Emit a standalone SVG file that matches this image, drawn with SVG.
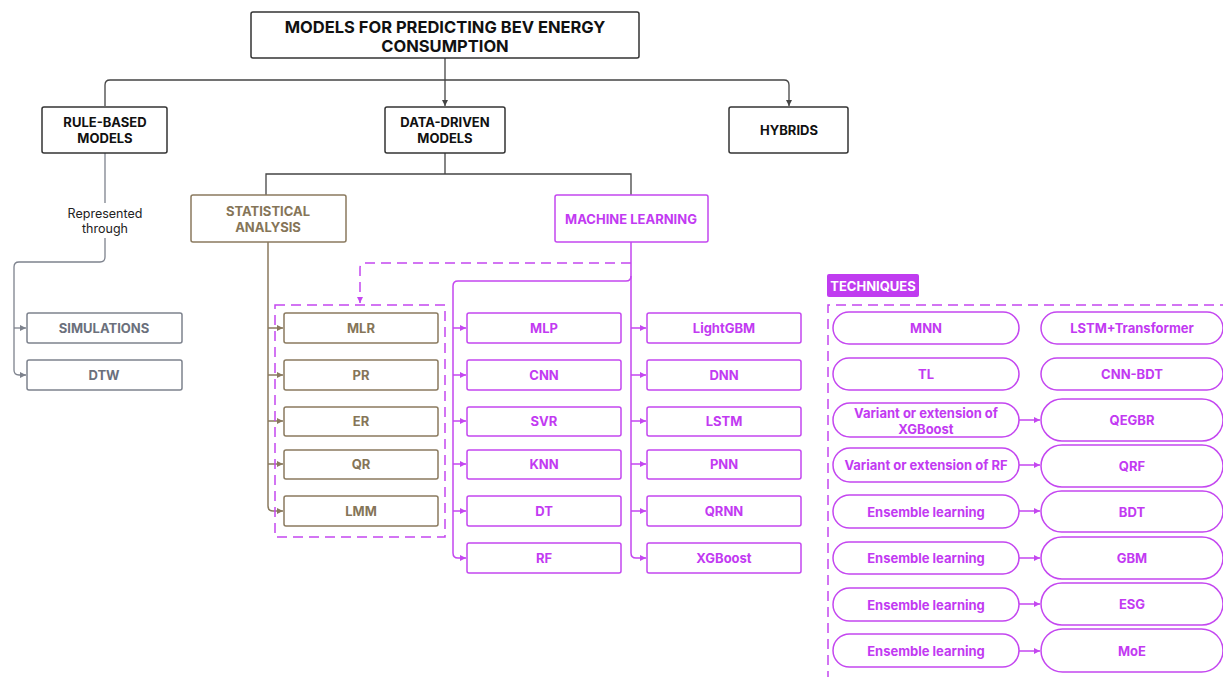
<svg xmlns="http://www.w3.org/2000/svg" width="1223" height="677" viewBox="0 0 1223 677">
<style>
text{font-family:Inter,"Liberation Sans",sans-serif;font-weight:700;text-anchor:middle;dominant-baseline:central}
.t{font-size:16.5px;fill:#111}
.k{font-size:13px;fill:#111}
.kb{fill:#fff;stroke:#333;stroke-width:1.5}
.g{font-size:13px;fill:#6b707c}
.gb{fill:#fff;stroke:#7d828d;stroke-width:1.5}
.b{font-size:13px;fill:#857558}
.bb{fill:#fff;stroke:#8a7a5f;stroke-width:1.5}
.m{font-size:13px;fill:#c23af2}
.mb{fill:#fff;stroke:#c447f0;stroke-width:1.5}
.lk{fill:none;stroke:#444;stroke-width:1.3}
.lg{fill:none;stroke:#7d828d;stroke-width:1.3}
.lb{fill:none;stroke:#8a7a5f;stroke-width:1.5}
.lm{fill:none;stroke:#c447f0;stroke-width:1.5}
.dm{fill:none;stroke:#c447f0;stroke-width:1.5;stroke-dasharray:10 6}
.n{font-size:12.5px;font-weight:400;fill:#222}
</style>
<defs>
<marker id="ak" viewBox="0 0 6 6" refX="6" refY="3" markerWidth="6" markerHeight="6" orient="auto" markerUnits="userSpaceOnUse"><path d="M0,0L6,3L0,6z" fill="#444"/></marker>
<marker id="ag" viewBox="0 0 6 6" refX="6" refY="3" markerWidth="6" markerHeight="6" orient="auto" markerUnits="userSpaceOnUse"><path d="M0,0L6,3L0,6z" fill="#7d828d"/></marker>
<marker id="ab" viewBox="0 0 6 6" refX="6" refY="3" markerWidth="6" markerHeight="6" orient="auto" markerUnits="userSpaceOnUse"><path d="M0,0L6,3L0,6z" fill="#8a7a5f"/></marker>
<marker id="am" viewBox="0 0 6 6" refX="6" refY="3" markerWidth="6" markerHeight="6" orient="auto" markerUnits="userSpaceOnUse"><path d="M0,0L6,3L0,6z" fill="#c447f0"/></marker>
</defs>
<rect width="1223" height="677" fill="#fff"/>

<g id="connectors">
  <path class="lk" d="M445,58V106" marker-end="url(#ak)"/>
  <path class="lk" d="M105,106V85Q105,80 110,80H784Q789,80 789,85V106" marker-end="url(#ak)"/>
  <path class="lk" d="M445,153V174H266V195M445,174H631V195"/>
  <path class="lg" d="M105,153V203"/>
  <path class="lg" d="M105,238V257Q105,262 100,262H19Q14,262 14,267V370Q14,375 19,375H26" marker-end="url(#ag)"/>
  <path class="lg" d="M14,328H26" marker-end="url(#ag)"/>
  <path class="lb" d="M268,242V506Q268,511 273,511H283" marker-end="url(#ab)"/>
  <path class="lb" d="M268,328H283" marker-end="url(#ab)"/>
  <path class="lb" d="M268,375H283" marker-end="url(#ab)"/>
  <path class="lb" d="M268,421H283" marker-end="url(#ab)"/>
  <path class="lb" d="M268,464H283" marker-end="url(#ab)"/>
  <path class="dm" d="M631,263H365Q360,263 360,268V303" marker-end="url(#am)"/>
  <rect class="dm" x="275" y="305" width="170" height="232"/>
  <path class="lm" d="M631,242V553Q631,558 636,558H646" marker-end="url(#am)"/>
  <path class="lm" d="M631,276Q631,281 626,281H458Q453,281 453,286V553Q453,558 458,558H466" marker-end="url(#am)"/>
  <path class="lm" d="M453,328H466" marker-end="url(#am)"/>
  <path class="lm" d="M453,375H466" marker-end="url(#am)"/>
  <path class="lm" d="M453,421H466" marker-end="url(#am)"/>
  <path class="lm" d="M453,464H466" marker-end="url(#am)"/>
  <path class="lm" d="M453,511H466" marker-end="url(#am)"/>
  <path class="lm" d="M631,328H646" marker-end="url(#am)"/>
  <path class="lm" d="M631,375H646" marker-end="url(#am)"/>
  <path class="lm" d="M631,421H646" marker-end="url(#am)"/>
  <path class="lm" d="M631,464H646" marker-end="url(#am)"/>
  <path class="lm" d="M631,511H646" marker-end="url(#am)"/>
  <path class="dm" d="M1230,305H828V680"/>
  <path class="lm" d="M1019,420H1040" marker-end="url(#am)"/>
  <path class="lm" d="M1019,465H1040" marker-end="url(#am)"/>
  <path class="lm" d="M1019,511H1040" marker-end="url(#am)"/>
  <path class="lm" d="M1019,558H1040" marker-end="url(#am)"/>
  <path class="lm" d="M1019,604H1040" marker-end="url(#am)"/>
  <path class="lm" d="M1019,651H1040" marker-end="url(#am)"/>
</g>

<g id="title"><rect class="kb" x="251" y="12" width="388" height="46" rx="2"/><text class="t" x="445" y="27">MODELS FOR PREDICTING BEV ENERGY</text><text class="t" x="445" y="46">CONSUMPTION</text></g>
<g id="rule"><rect class="kb" x="42" y="107" width="125" height="46" rx="2"/><text class="k" x="105" y="122">RULE-BASED</text><text class="k" x="105" y="138">MODELS</text></g>
<g id="data"><rect class="kb" x="385" y="107" width="120" height="46" rx="2"/><text class="k" x="445" y="122">DATA-DRIVEN</text><text class="k" x="445" y="138">MODELS</text></g>
<g id="hybrids"><rect class="kb" x="729" y="107" width="119" height="46" rx="2"/><text class="k" x="789" y="130">HYBRIDS</text></g>
<g id="represented"><text class="n" x="105" y="213">Represented</text><text class="n" x="105" y="228">through</text></g>
<g id="simulations"><rect class="gb" x="27" y="313" width="155" height="30" rx="2"/><text class="g" x="104" y="328">SIMULATIONS</text></g>
<g id="dtw"><rect class="gb" x="27" y="360" width="155" height="30" rx="2"/><text class="g" x="104" y="375">DTW</text></g>
<g id="stat"><rect class="bb" x="191" y="195" width="155" height="47" rx="2"/><text class="b" x="268" y="211">STATISTICAL</text><text class="b" x="268" y="227">ANALYSIS</text></g>
<g id="ml"><rect class="mb" x="555" y="195" width="153" height="47" rx="2"/><text class="m" x="631" y="219">MACHINE LEARNING</text></g>

<g id="mlr"><rect class="bb" x="284" y="313" width="154" height="30" rx="2"/><text class="b" x="361" y="328">MLR</text></g>
<g id="pr"><rect class="bb" x="284" y="360" width="154" height="30" rx="2"/><text class="b" x="361" y="375">PR</text></g>
<g id="er"><rect class="bb" x="284" y="407" width="154" height="29" rx="2"/><text class="b" x="361" y="421">ER</text></g>
<g id="qr"><rect class="bb" x="284" y="450" width="154" height="29" rx="2"/><text class="b" x="361" y="464">QR</text></g>
<g id="lmm"><rect class="bb" x="284" y="496" width="154" height="30" rx="2"/><text class="b" x="361" y="511">LMM</text></g>

<g id="mlp"><rect class="mb" x="467" y="313" width="154" height="30" rx="2"/><text class="m" x="544" y="328">MLP</text></g>
<g id="cnn"><rect class="mb" x="467" y="360" width="154" height="30" rx="2"/><text class="m" x="544" y="375">CNN</text></g>
<g id="svr"><rect class="mb" x="467" y="407" width="154" height="29" rx="2"/><text class="m" x="544" y="421">SVR</text></g>
<g id="knn"><rect class="mb" x="467" y="450" width="154" height="29" rx="2"/><text class="m" x="544" y="464">KNN</text></g>
<g id="dt"><rect class="mb" x="467" y="496" width="154" height="30" rx="2"/><text class="m" x="544" y="511">DT</text></g>
<g id="rf"><rect class="mb" x="467" y="543" width="154" height="30" rx="2"/><text class="m" x="544" y="558">RF</text></g>

<g id="lightgbm"><rect class="mb" x="647" y="313" width="154" height="30" rx="2"/><text class="m" x="724" y="328">LightGBM</text></g>
<g id="dnn"><rect class="mb" x="647" y="360" width="154" height="30" rx="2"/><text class="m" x="724" y="375">DNN</text></g>
<g id="lstm"><rect class="mb" x="647" y="407" width="154" height="29" rx="2"/><text class="m" x="724" y="421">LSTM</text></g>
<g id="pnn"><rect class="mb" x="647" y="450" width="154" height="29" rx="2"/><text class="m" x="724" y="464">PNN</text></g>
<g id="qrnn"><rect class="mb" x="647" y="496" width="154" height="30" rx="2"/><text class="m" x="724" y="511">QRNN</text></g>
<g id="xgboost"><rect class="mb" x="647" y="543" width="154" height="30" rx="2"/><text class="m" x="724" y="558">XGBoost</text></g>

<g id="techniques"><rect x="827" y="274" width="92" height="23" rx="2" fill="#c03cf0"/><text x="873" y="285.5" font-size="13" fill="#fff">TECHNIQUES</text></g>

<g id="mnn"><rect class="mb" x="833" y="312" width="186" height="32" rx="16"/><text class="m" x="926" y="328">MNN</text></g>
<g id="lstmtr"><rect class="mb" x="1041" y="312" width="182" height="32" rx="16"/><text class="m" x="1132" y="328">LSTM+Transformer</text></g>
<g id="tl"><rect class="mb" x="833" y="358" width="186" height="32" rx="16"/><text class="m" x="926" y="374">TL</text></g>
<g id="cnnbdt"><rect class="mb" x="1041" y="358" width="182" height="32" rx="16"/><text class="m" x="1132" y="374">CNN-BDT</text></g>
<g id="varxgb"><rect class="mb" x="833" y="403" width="186" height="34" rx="17"/><text class="m" x="926" y="413">Variant or extension of</text><text class="m" x="926" y="429">XGBoost</text></g>
<g id="qegbr"><rect class="mb" x="1041" y="399" width="182" height="42" rx="21"/><text class="m" x="1132" y="420">QEGBR</text></g>
<g id="varrf"><rect class="mb" x="833" y="448" width="186" height="34" rx="17"/><text class="m" x="926" y="465">Variant or extension of RF</text></g>
<g id="qrf"><rect class="mb" x="1041" y="445" width="182" height="42" rx="21"/><text class="m" x="1132" y="466">QRF</text></g>
<g id="ens1"><rect class="mb" x="833" y="495" width="186" height="33" rx="16.5"/><text class="m" x="926" y="511.5">Ensemble learning</text></g>
<g id="bdt"><rect class="mb" x="1041" y="491" width="182" height="41" rx="20.5"/><text class="m" x="1132" y="511.5">BDT</text></g>
<g id="ens2"><rect class="mb" x="833" y="542" width="186" height="32" rx="16"/><text class="m" x="926" y="558">Ensemble learning</text></g>
<g id="gbm"><rect class="mb" x="1041" y="537" width="182" height="42" rx="21"/><text class="m" x="1132" y="558">GBM</text></g>
<g id="ens3"><rect class="mb" x="833" y="588" width="186" height="33" rx="16.5"/><text class="m" x="926" y="604.5">Ensemble learning</text></g>
<g id="esg"><rect class="mb" x="1041" y="583" width="182" height="42" rx="21"/><text class="m" x="1132" y="604">ESG</text></g>
<g id="ens4"><rect class="mb" x="833" y="634" width="186" height="33" rx="16.5"/><text class="m" x="926" y="650.5">Ensemble learning</text></g>
<g id="moe"><rect class="mb" x="1041" y="629" width="182" height="43" rx="21.5"/><text class="m" x="1132" y="650.5">MoE</text></g>
</svg>
